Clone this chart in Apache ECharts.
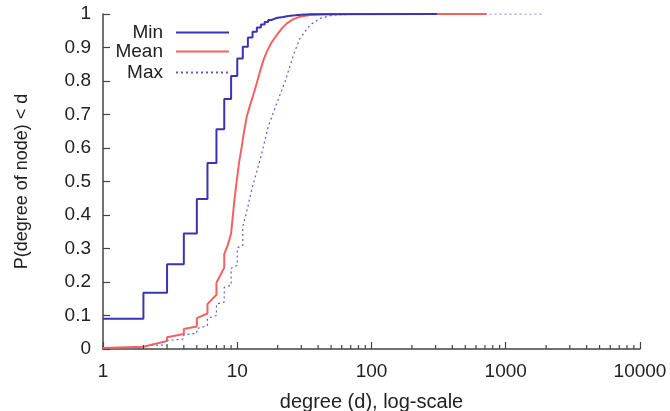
<!DOCTYPE html>
<html><head><meta charset="utf-8">
<script src="https://cdn.jsdelivr.net/npm/echarts@6/dist/echarts.min.js"></script>
<style>html,body{margin:0;padding:0;background:#fff}#c{width:670px;height:411px}</style>
</head><body><div id="c"></div>
<script>
const seriesNames = ['Min', 'Mean', 'Max'];
const yTicks = [0, 0.1, 0.2, 0.3, 0.4, 0.5, 0.6, 0.7, 0.8, 0.9, 1];
const xMajorTicks = [1, 10, 100, 1000, 10000];
const xMinorTicks = [2,3,4,5,6,7,8,9,20,30,40,50,60,70,80,90,200,300,400,500,600,700,800,900,2000,3000,4000,5000,6000,7000,8000,9000];
// Min: step CDF (x, value after step)
const minData = [[1,0.09],[2,0.168],[3,0.253],[4,0.345],[5,0.448],[6,0.555],[7,0.656],[8,0.746],[9,0.815],[10,0.867],[11,0.902],[12,0.930],[13,0.947],[14,0.960],[15,0.969],[16,0.976],[17,0.982],[18,0.986],[19,0.989],[20,0.991],[22,0.994],[24,0.996],[27,0.998],[30,0.999],[35,1.0],[308,1.0]];
const meanData = [[1,0.003],[2,0.007],[2,0.012],[3,0.024],[3,0.035],[4,0.045],[4,0.06],[5,0.067],[5,0.092],[6,0.106],[6,0.134],[7,0.162],[7,0.198],[8,0.243],[8,0.283],[8.5,0.31],[9,0.345],[9.5,0.44],[9.9,0.50],[10.3,0.555],[10.8,0.604],[11.2,0.645],[11.76,0.693],[12.4,0.725],[13.17,0.758],[14,0.795],[14.77,0.828],[15.6,0.86],[16.57,0.887],[18,0.915],[19.7,0.937],[21.5,0.957],[23.4,0.972],[26,0.984],[29.3,0.992],[34.8,0.997],[45,0.999],[70,1],[721,1]];
const maxData = [[1,0.003],[2,0.004],[2,0.01],[3,0.012],[3,0.025],[4,0.03],[4,0.042],[5,0.047],[5,0.061],[6,0.07],[6,0.092],[7,0.1],[7,0.134],[8,0.14],[8,0.184],[9,0.19],[9,0.241],[10,0.25],[10,0.302],[11,0.31],[11,0.365],[12,0.425],[12.8,0.475],[14.8,0.564],[17,0.664],[19.7,0.733],[22.7,0.798],[26.2,0.878],[29.3,0.927],[34.8,0.967],[41.3,0.987],[51.7,0.997],[80,1],[1860,1]];

const colors = {Min:'#3b33b6', Mean:'#f26262', Max:'#5b5bd6'};
const font = 'Liberation Sans, Arial, sans-serif';
const chart = echarts.init(document.getElementById('c'), null, {renderer:'canvas'});

function legendFor(name, top){
  return {
    data:[name], right: 440, top: top, orient:'vertical', align:'right',
    itemWidth: 53, itemHeight: 14, padding: 0,
    itemStyle:{opacity:0},
    textStyle:{fontFamily:font, fontSize:19, color:'#222', padding:[0,8,0,0]},
    selectedMode:false
  };
}

chart.setOption({
  animation:false,
  legend:[legendFor('Min',23), legendFor('Mean',42), legendFor('Max',63)],
  grid:{left:103, right:30, top:14, bottom:62, containLabel:false, outerBoundsMode:'none'},
  xAxis:{
    type:'log', logBase:10, min:1, max:10000,
    name:'degree (d), log-scale', nameLocation:'middle', nameGap:43,
    nameTextStyle:{fontFamily:font, fontSize:20, color:'#222'},
    axisLine:{show:true, lineStyle:{color:'#444', width:1.5}},
    axisTick:{show:true, inside:true, length:7, lineStyle:{color:'#444', width:1.2}},
    axisLabel:{fontFamily:font, fontSize:19, color:'#222', margin:13,
      formatter: v => String(Math.round(v))},
    splitLine:{show:false}
  },
  yAxis:{
    type:'value', min:0, max:1, interval:0.1,
    name:'P(degree of node) < d', nameLocation:'middle', nameGap:72, nameRotate:90,
    nameTextStyle:{fontFamily:font, fontSize:18, color:'#222'},
    axisLine:{show:true, lineStyle:{color:'#444', width:1.5}},
    axisTick:{show:true, inside:true, length:7, lineStyle:{color:'#444', width:1.2}},
    axisLabel:{fontFamily:font, fontSize:19, color:'#222', margin:12,
      formatter: v => { const t = yTicks.find(x => Math.abs(x - v) < 1e-9); return t === undefined ? '' : String(t); }},
    splitLine:{show:false}
  },
  series:[
    {name:'Min', type:'line', step:'end', data:minData, symbol:'none',
      lineStyle:{color:colors.Min, width:2}, itemStyle:{color:colors.Min}, z:5},
    {name:'Mean', type:'line', data:meanData, symbol:'none',
      lineStyle:{color:colors.Mean, width:2}, itemStyle:{color:colors.Mean}, z:4},
    {name:'Max', type:'line', data:maxData, symbol:'none',
      lineStyle:{color:colors.Max, width:1.2, type:[2,3]}, itemStyle:{color:colors.Max}, z:3},
    {name:'minorTicks', type:'custom', data:xMinorTicks.map(v=>[v,0]), silent:true, z:6,
      renderItem:(params, api) => {
        const p = api.coord([api.value(0), 0]);
        return {type:'line', shape:{x1:p[0], y1:p[1], x2:p[0], y2:p[1]-4},
          style:{stroke:'#444', lineWidth:1.2}};
      }}
  ]
});
</script></body></html>
